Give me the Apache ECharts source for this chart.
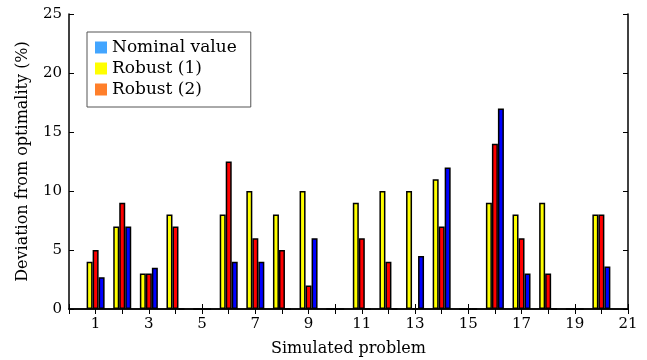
<!DOCTYPE html>
<html>
<head>
<meta charset="utf-8">
<script src="https://cdn.jsdelivr.net/npm/echarts@6/dist/echarts.min.js"></script>
<style>
  html, body { margin: 0; padding: 0; background: #fff; }
  #chart { width: 647px; height: 360px; }
</style>
</head>
<body>
<div id="chart"></div>
<script>
// problem index 0..21 (0 and 21 are just the axis ends)
const categories = ["0", "1", "2", "3", "4", "5", "6", "7", "8", "9", "10",
  "11", "12", "13", "14", "15", "16", "17", "18", "19", "20", "21"];
const xTickLabels = ["1", "3", "5", "7", "9", "11", "13", "15", "17", "19", "21"];
const yTicks = [0, 5, 10, 15, 20, 25];

// deviation from optimality (%) per problem
const robust1 = [null, 4, 7, 3, 8, 0, 8, 10, 8, 10, 0, 9, 10, 10, 11, 0, 9, 8, 9, 0, 8, null];
const robust2 = [null, 5, 9, 3, 7, 0, 12.5, 6, 5, 2, 0, 6, 4, 0, 7, 0, 14, 6, 3, 0, 8, null];
const nominal = [null, 2.7, 7, 3.5, 0, 0, 4, 4, 0, 6, 0, 0, 0, 4.5, 12, 0, 17, 3, 0, 0, 3.6, null];

const chart = echarts.init(document.getElementById("chart"));
const serif = "DejaVu Serif";

const barStyle = (color) => ({
  color: color,
  borderColor: "#000",
  borderWidth: 1.5
});

const option = {
  animation: false,
  textStyle: { fontFamily: serif },
  grid: { left: 69, right: 19, top: 14, bottom: 51, outerBoundsMode: "none" },
  legend: {
    orient: "vertical",
    left: 87,
    top: 32,
    padding: [7, 14, 9, 8],
    itemWidth: 12,
    itemHeight: 12,
    itemGap: 4,
    borderColor: "#555",
    borderWidth: 1,
    backgroundColor: "#fff",
    textStyle: { fontFamily: serif, fontSize: 17, color: "#000" },
    data: [
      { name: "Nominal value", icon: "rect", itemStyle: { color: "#42a5ff", borderWidth: 0 } },
      { name: "Robust (1)", icon: "rect", itemStyle: { color: "#ffff00", borderWidth: 0 } },
      { name: "Robust (2)", icon: "rect", itemStyle: { color: "#ff7f2a", borderWidth: 0 } }
    ]
  },
  xAxis: [
    {
      type: "category",
      data: categories,
      boundaryGap: false,
      name: "Simulated problem",
      nameLocation: "middle",
      nameGap: 32,
      nameTextStyle: { fontFamily: serif, fontSize: 16, color: "#000" },
      axisLine: { lineStyle: { color: "#000", width: 1.5 } },
      axisTick: { inside: true, length: 5, interval: 0, lineStyle: { color: "#000" } },
      axisLabel: {
        interval: (i, v) => xTickLabels.includes(v),
        fontFamily: serif, fontSize: 15, color: "#000", margin: 8
      }
    },
    {
      type: "category",
      data: categories,
      boundaryGap: false,
      position: "top",
      axisLine: { lineStyle: { color: "#000", width: 1.5 } },
      axisTick: { inside: true, length: 5, interval: 0, lineStyle: { color: "#000" } },
      axisLabel: { show: false }
    }
  ],
  yAxis: [
    {
      type: "value",
      min: yTicks[0],
      max: yTicks[yTicks.length - 1],
      interval: 5,
      name: "Deviation from optimality (%)",
      nameLocation: "middle",
      nameGap: 38,
      nameTextStyle: { fontFamily: serif, fontSize: 16, color: "#000" },
      splitLine: { show: false },
      axisLine: { show: true, lineStyle: { color: "#000", width: 1.5 } },
      axisTick: { show: true, inside: true, length: 5, lineStyle: { color: "#000" } },
      axisLabel: { fontFamily: serif, fontSize: 15, color: "#000", margin: 7 }
    },
    {
      type: "value",
      min: yTicks[0],
      max: yTicks[yTicks.length - 1],
      interval: 5,
      position: "right",
      splitLine: { show: false },
      axisLine: { show: true, lineStyle: { color: "#000", width: 1.5 } },
      axisTick: { show: true, inside: true, length: 5, lineStyle: { color: "#000" } },
      axisLabel: { show: false }
    }
  ],
  series: [
    {
      name: "Robust (1)", type: "bar", data: robust1,
      barWidth: 6, barGap: "0%", itemStyle: barStyle("#ffff00")
    },
    {
      name: "Robust (2)", type: "bar", data: robust2,
      barWidth: 6, barGap: "0%", itemStyle: barStyle("#ff0000")
    },
    {
      name: "Nominal value", type: "bar", data: nominal,
      barWidth: 6, barGap: "0%", itemStyle: barStyle("#0000ff")
    }
  ]
};

chart.setOption(option);
</script>
</body>
</html>
